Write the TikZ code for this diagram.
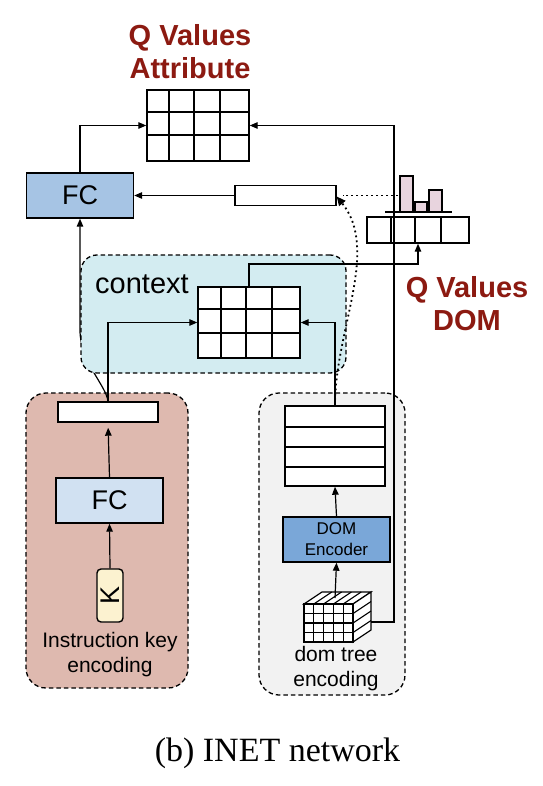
\documentclass[tikz,border=0pt]{standalone}
\usepackage{fontspec}
\usepackage{graphicx}
\setmainfont{Liberation Sans}
\newfontfamily\capfont{Liberation Serif}
\usetikzlibrary{arrows.meta,calc}
\definecolor{qred}{RGB}{140,26,17}
\definecolor{instrfill}{RGB}{222,185,175}
\definecolor{ctxfill}{RGB}{211,236,241}
\definecolor{domfill}{RGB}{242,242,242}
\definecolor{fcblue}{RGB}{166,196,228}
\definecolor{fclight}{RGB}{209,225,242}
\definecolor{encblue}{RGB}{122,167,216}
\definecolor{kfill}{RGB}{252,242,208}
\definecolor{barfill}{RGB}{232,212,222}
\begin{document}
\begin{tikzpicture}[x=1pt,y=-1pt,
  box/.style={draw, line width=1.4pt, inner sep=0pt},
  group/.style={draw, line width=1.3pt, dash pattern=on 4.5pt off 3pt, rounded corners=20pt, inner sep=0pt},
  arr/.style={-{Triangle[length=8pt,width=6.5pt]}, line width=1.2pt},
  dots/.style={line width=1.8pt, dash pattern=on 1.8pt off 3.2pt},
  gridline/.style={line width=1.4pt},
  qlabel/.style={text=qred, font=\bfseries\fontsize{29}{33}\selectfont, align=center, inner sep=0pt},
  small/.style={font=\fontsize{21}{25}\selectfont, align=center, inner sep=0pt}]
\useasboundingbox (0,0) rectangle (542,786);

% group backgrounds
\node[group, fill=instrfill, minimum width=162pt, minimum height=295pt] (instrgrp) at (107,540.5) {};
\node[group, fill=domfill, minimum width=146pt, minimum height=302pt] (domgrp) at (332,544) {};

% instruction side
\node[box, fill=white, minimum width=100pt, minimum height=20pt] (irect) at (108,412) {};
\node[box, fill=fclight, minimum width=107pt, minimum height=45pt, font=\fontsize{27}{30}\selectfont] (fc2) at (109.5,500.5) {FC};
\node[box, fill=kfill, rounded corners=4pt, minimum width=26pt, minimum height=53pt, font=\fontsize{27}{30}\selectfont] (kbox) at (110,595.5) {\rotatebox{90}{K}};
\node[small] (instrlbl) at (110,655) {Instruction key\\encoding};

% curved link from instruction vector to top FC (behind context)
\node[box, fill=fcblue, minimum width=107pt, minimum height=45pt, font=\fontsize{27}{30}\selectfont] (fc) at (80,195.5) {FC};
\draw[arr] (irect.north) .. controls (106,385) and (80,362) .. (80,330) -- (fc.south);

% context group
\node[group, fill=ctxfill, rounded corners=16pt, minimum width=265pt, minimum height=118pt] (ctx) at (213.5,314) {};
\node[inner sep=0pt, font=\fontsize{29}{33}\selectfont, anchor=base west] (ctxlbl) at (95,293) {context};
\node[box, fill=white, minimum width=102pt, minimum height=71pt] (cgrid) at (249,322.5) {};
\foreach \x in {221,246,272} \draw[gridline] (\x,287) -- (\x,358);
\foreach \y in {309,333} \draw[gridline] (198,\y) -- (300,\y);

% top Q values attribute
\node[qlabel] (qattrlbl) at (190,52) {Q Values\\Attribute};
\node[box, fill=white, minimum width=102pt, minimum height=71pt] (qattr) at (198,125.5) {};
\foreach \x in {169,194,220} \draw[gridline] (\x,90) -- (\x,161);
\foreach \y in {112,135} \draw[gridline] (147,\y) -- (249,\y);

\node[box, fill=white, minimum width=101pt, minimum height=20pt] (mid) at (285.5,195.5) {};

% Q values DOM
\node[box, fill=white, minimum width=102pt, minimum height=26pt] (qdom) at (418,230) {};
\foreach \x in {391,415,441} \draw[gridline] (\x,217) -- (\x,243);
\draw[line width=1.2pt, fill=barfill] (400,176) rectangle (413,212);
\draw[line width=1.2pt, fill=barfill] (415,202) rectangle (427,212);
\draw[line width=1.2pt, fill=barfill] (429,190) rectangle (442,212);
\draw[line width=1.3pt] (385,212) -- (452,212);
\node[qlabel] (qdomlbl) at (467,304) {Q Values\\DOM};

% DOM side
\node[box, fill=white, minimum width=100pt, minimum height=80pt] (stack) at (335,446) {};
\foreach \y in {427,447,467} \draw[gridline] (285,\y) -- (385,\y);
\node[box, fill=encblue, minimum width=107pt, minimum height=45pt, font=\fontsize{17}{21}\selectfont, align=center] (domenc) at (336.5,539.5) {DOM\\Encoder};
% cube
\draw[line width=1.2pt, fill=white] (304,604) -- (322,592) -- (371,592) -- (353,604) -- cycle;
\draw[line width=1.2pt, fill=white] (353,604) -- (371,592) -- (371,630) -- (353,642) -- cycle;
\draw[line width=1.2pt, fill=white] (304,604) rectangle (353,642);
\foreach \x in {313.8,323.6,333.4,343.2} {
  \draw[line width=1.1pt] (\x,604) -- ++(18,-12);
  \draw[line width=1.1pt] (\x,604) -- (\x,642);
}
\foreach \y in {613.5,623,632.5} {
  \draw[line width=1.1pt] (304,\y) -- (353,\y);
  \draw[line width=1.1pt] (353,\y) -- ++(18,-12);
}
\coordinate (cubeT) at (335,598);
\coordinate (cubeR) at (371,622);
\node[small] (domlbl) at (336,669) {dom tree\\encoding};

% connectors
\draw[arr] (fc.north) |- (qattr.west);
\coordinate (bendR) at (394,622);
\draw[arr] (cubeR) -- (bendR) |- (qattr.east);
\draw[arr] (mid.west) -- (fc.east);
\coordinate (histL) at (398,195.5);
\draw[dots] (histL) -- ([xshift=6pt]mid.east);
\draw[dots, -{Triangle[length=9pt,width=8pt]}] (stack.north) .. controls (335,330) and (380,250) .. ([yshift=-1pt]mid.east);
\draw[arr] (irect.north) |- (cgrid.west);
\draw[arr] (stack.north) |- (cgrid.east);
\coordinate (cq) at (249,264);
\draw[arr] (cgrid.north) -- (cq) -| (qdom.south);
\draw[arr, shorten >=5pt] (fc2.north) -- (irect.south);
\draw[arr] (kbox.north) -- (fc2.south);
\draw[arr] (domenc.north) -- (stack.south);
\draw[arr] (cubeT) -- (domenc.south);

% caption
\node[inner sep=0pt, font=\capfont\fontsize{34}{38}\selectfont] (cap) at (277.5,753) {(b) INET network};
\end{tikzpicture}
\end{document}
